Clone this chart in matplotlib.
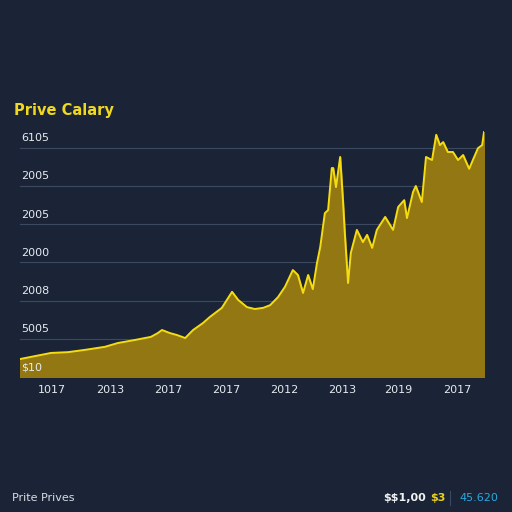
import numpy as np
import matplotlib
matplotlib.use('Agg')
import matplotlib.pyplot as plt

plt.rcParams['text.parse_math'] = False  # keep the $ signs literal

# price series (x in 0..100, value in grid units)
X = [0.0, 6.7, 10.3, 14.0, 18.3, 21.1, 24.8, 28.2, 29.7, 30.6,
     32.3, 33.8, 35.6, 37.3, 39.4, 40.9, 43.5, 45.7, 47.0, 48.9,
     50.6, 52.4, 53.9, 55.6, 57.1, 58.8, 59.9, 61.0, 62.1, 63.1,
     64.0, 64.7, 65.7, 66.4, 67.2, 67.5, 68.1, 69.0, 69.6, 70.0,
     70.7, 71.3, 72.6, 73.9, 74.8, 75.9, 76.9, 78.7, 80.4, 81.5,
     82.8, 83.4, 84.7, 85.3, 86.6, 87.5, 88.8, 89.7, 90.5, 91.2,
     92.2, 93.3, 94.4, 95.5, 96.8, 97.6, 98.7, 99.6, 100.0]
PRICE = [0.47, 0.63, 0.65, 0.71, 0.79, 0.89, 0.97, 1.05, 1.15, 1.23,
         1.15, 1.10, 1.02, 1.23, 1.41, 1.57, 1.81, 2.23, 2.02, 1.83,
         1.78, 1.81, 1.88, 2.09, 2.36, 2.80, 2.67, 2.20, 2.67, 2.30,
         2.98, 3.40, 4.29, 4.37, 5.47, 5.47, 4.97, 5.76, 4.63, 3.77,
         2.46, 3.25, 3.85, 3.53, 3.72, 3.38, 3.85, 4.19, 3.85, 4.45,
         4.63, 4.16, 4.84, 5.00, 4.58, 5.76, 5.68, 6.34, 6.07, 6.15,
         5.89, 5.89, 5.68, 5.81, 5.45, 5.68, 5.99, 6.07, 6.41]

YTICKS = [0, 1, 2, 3, 4, 5, 6]
YLABELS = ['$10', '5005', '2008', '2000', '2005', '2005', '6105']
XTICKS = [6.9, 19.4, 31.9, 44.4, 56.9, 69.4, 81.5, 94.2]
XLABELS = ['1017', '2013', '2017', '2017', '2012', '2013', '2019', '2017']

BG = '#1a2436'
fig = plt.figure(figsize=(5.12, 5.12), dpi=100, facecolor=BG)
ax = fig.add_axes([20/512, 1 - 377/512, 464/512, (377 - 125)/512])
ax.set_facecolor(BG)

ax.fill_between(X, PRICE, 0, color='#927712', zorder=2)
ax.plot(X, PRICE, color='#f5dc10', lw=1.4, zorder=3)

ax.set_xlim(0, 100)
ax.set_ylim(0, (377 - 125) / 38.2)

for v in YTICKS[1:]:
    ax.axhline(v, color='#3b4a60', lw=0.8, zorder=1)
for v, lab in zip(YTICKS, YLABELS):
    ax.text(0.3, v + 0.12, lab, color='#e6ebf0', fontsize=8, va='bottom', ha='left', zorder=4)

ax.set_xticks(XTICKS)
ax.set_xticklabels(XLABELS, color='#e6ebf0', fontsize=8)
ax.tick_params(axis='x', length=0, pad=6)
ax.set_yticks([])
for s in ax.spines.values():
    s.set_visible(False)

fig.text(14/512, 1 - 110/512, 'Prive Calary', color='#f0d820', fontsize=10.5,
         fontweight='bold', va='center', ha='left')

fig.text(12/512, 1 - 498/512, 'Prite Prives', color='#d8dde4', fontsize=8, va='center')
fig.text(383/512, 1 - 498/512, '$$1,00', color='#f2f2f2', fontsize=8, va='center', fontweight='bold')
fig.text(430/512, 1 - 498/512, '$3', color='#e8d020', fontsize=8, va='center', fontweight='bold')
fig.add_artist(plt.Line2D([450/512, 450/512], [1 - 505/512, 1 - 491/512], color='#3b4a60', lw=0.8))
fig.text(459/512, 1 - 498/512, '45.620', color='#2ba8e0', fontsize=8, va='center')

fig.savefig('out.png', dpi=100, facecolor=BG)
